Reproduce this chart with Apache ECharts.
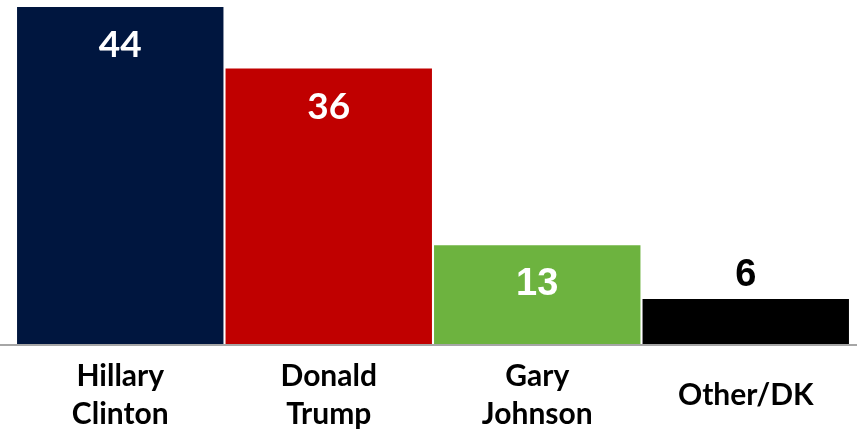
<!DOCTYPE html>
<html>
<head>
<meta charset="utf-8">
<script src="https://cdn.jsdelivr.net/npm/echarts@6/dist/echarts.min.js"></script>
<style>
html,body{margin:0;padding:0;background:#fff;}
#chart{width:857px;height:430px;}
</style>
</head>
<body>
<div id="chart"></div>
<script>
const categories = ['Hillary\nClinton', 'Donald\nTrump', 'Gary\nJohnson', 'Other/DK'];
const values = [44, 36, 13, 6];
const barColors = ['#00163F', '#C00000', '#6DB33F', '#000000'];
const labelFonts = ['Lato', 'Lato', 'Liberation Sans', 'Liberation Sans'];
const labelSizes = [37, 37, 38, 38];
const labelColors = ['#ffffff', '#ffffff', '#ffffff', '#000000'];
const labelInside = [true, true, true, false];

const chart = echarts.init(document.getElementById('chart'));
const data = values.map((v, i) => ({
  value: v,
  itemStyle: { color: barColors[i] },
  label: {
    show: true,
    position: labelInside[i] ? 'insideTop' : 'top',
    distance: labelInside[i] ? 20 : 4,
    color: labelColors[i],
    fontFamily: labelFonts[i],
    fontWeight: 'bold',
    fontSize: labelSizes[i]
  }
}));

chart.setOption({
  animation: false,
  grid: { left: 16, right: 7, top: 7, bottom: 85, containLabel: false, outerBoundsMode: 'none' },
  xAxis: {
    type: 'category',
    data: categories,
    axisLine: { show: false },
    axisTick: { show: false },
    axisLabel: {
      interval: 0,
      color: '#000',
      fontFamily: 'Lato',
      fontWeight: 'bold',
      fontSize: 30,
      lineHeight: 38,
      verticalAlign: 'middle',
      margin: 50
    }
  },
  yAxis: {
    type: 'value',
    min: 0,
    max: 44,
    show: false,
    splitLine: { show: false }
  },
  series: [{
    type: 'bar',
    data: data,
    barCategoryGap: '1%'
  }]
});

const y0 = chart.convertToPixel({ yAxisIndex: 0 }, 0);
chart.setOption({
  graphic: [{
    type: 'line',
    shape: { x1: 0, y1: y0, x2: 857, y2: y0 },
    style: { stroke: '#A6A6A6', lineWidth: 2 },
    z: 10
  }]
});
</script>
</body>
</html>
